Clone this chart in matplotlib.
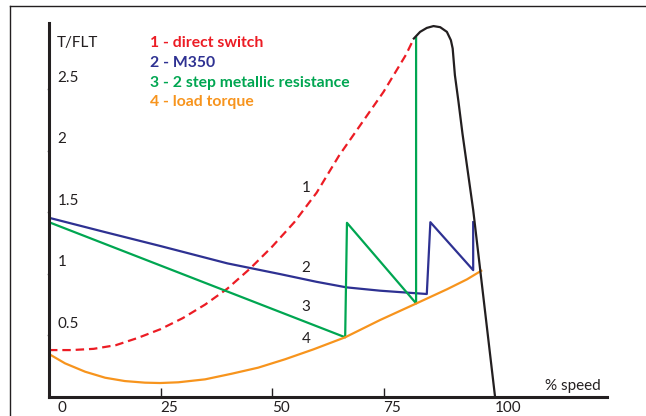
import matplotlib.pyplot as plt
from matplotlib.lines import Line2D

plt.rcParams['font.family'] = ['Lato', 'DejaVu Sans']

# curve 1 - direct switch (dashed)
direct_x = [0, 5, 10, 15, 20, 25, 30, 35, 40, 45, 50, 55, 60, 65, 70, 75, 80, 81.8]
direct_y = [0.38, 0.38, 0.39, 0.42, 0.48, 0.55, 0.64, 0.75, 0.88, 1.04, 1.22, 1.42, 1.66, 1.96, 2.22, 2.48, 2.78, 2.914]

# curve 2 - M350
m350_x = [0, 12.5, 25, 40, 51.8, 60, 66.7, 74.2, 80, 84.7, 85.5, 95.1, 95.1]
m350_y = [1.456, 1.34, 1.226, 1.085, 0.998, 0.935, 0.89, 0.863, 0.848, 0.836, 1.42, 1.03, 1.42]

# curve 3 - 2 step metallic resistance
step_x = [0, 66.4, 66.8, 82.3, 82.3]
step_y = [1.42, 0.484, 1.415, 0.76, 2.92]

# curve 4 - load torque
load_x = [0, 3.6, 8.1, 12.6, 17.0, 21.5, 24.9, 29.0, 35.0, 41.0, 46.9, 52.9, 59.3, 66.4, 74.2, 82.4, 89.2, 93.7, 96.9]
load_y = [0.348, 0.272, 0.204, 0.155, 0.128, 0.115, 0.112, 0.118, 0.142, 0.188, 0.237, 0.305, 0.386, 0.484, 0.624, 0.76, 0.874, 0.955, 1.025]

# motor torque curve (breakdown peak and fall to synchronous speed)
motor_x = [81.8, 83.2, 84.7, 86.2, 87.7, 89.2, 90.1, 90.5, 91.0, 91.8, 92.7, 95.1, 100]
motor_y = [2.914, 2.968, 3.0, 3.015, 3.006, 2.968, 2.9, 2.833, 2.616, 2.4, 2.14, 1.52, 0.0]

x_ticks = [0, 25, 50, 75, 100]
y_ticks = [0.5, 1, 1.5, 2, 2.5]

legend_labels = ["1 - direct switch", "2 - M350", "3 - 2 step metallic resistance", "4 - load torque"]
RED = '#ec1c24'
BLUE = '#2e3192'
GREEN = '#00a651'
ORANGE = '#f7941d'
BLACK = '#231f20'
legend_colors = [RED, BLUE, GREEN, ORANGE]

fig = plt.figure(figsize=(6.46, 4.16), dpi=100)
W, H = 646, 416
ax = fig.add_axes([49 / W, (H - 396.8) / H, (607 - 49) / W, (396.8 - 23) / H])
ax.set_xlim(0, 125.1)
ax.set_ylim(0, 3.04)

ax.plot(direct_x, direct_y, color=RED, lw=1.6, dashes=(3.8, 2.2))
ax.plot(m350_x, m350_y, color=BLUE, lw=1.6)
ax.plot(step_x, step_y, color=GREEN, lw=1.6)
ax.plot(load_x, load_y, color=ORANGE, lw=1.6)
ax.plot(motor_x, motor_y, color=BLACK, lw=1.6)

for s in ['top', 'right']:
    ax.spines[s].set_visible(False)
for s in ['left', 'bottom']:
    ax.spines[s].set_linewidth(2.2)
    ax.spines[s].set_color(BLACK)

ax.set_xticks(x_ticks[1:-1])
ax.set_yticks(y_ticks)
ax.tick_params(axis='x', direction='in', length=6.5, width=1, color=BLACK, labelbottom=False)
ax.tick_params(axis='y', direction='out', length=1.5, width=1, color='#999999', labelleft=False)

# tick labels (offset like the original drawing)
for i, v in enumerate(x_ticks):
    dx = 6 if i == 0 else 0
    ax.annotate(str(v), xy=(v, 0), xytext=(dx, -8), textcoords='offset points',
                ha='left', va='center', fontsize=11, color=BLACK)
for v in y_ticks:
    ax.annotate(f"{v:g}", xy=(0, v), xytext=(6, 8.5), textcoords='offset points',
                ha='left', va='center', fontsize=11, color=BLACK)

ax.text(1.8, 2.876, "T/FLT", ha='left', va='center', fontsize=11, color=BLACK)
ax.text(117.4, 0.085, "% speed", ha='center', va='center', fontsize=11, color=BLACK)

legend_y = [2.876, 2.714, 2.551, 2.396]
for lab, c, yy in zip(legend_labels, legend_colors, legend_y):
    ax.text(22.6, yy, lab, ha='left', va='center', fontsize=11.3, color=c, fontweight='bold')

# curve numbers
for n, yy in zip(["1", "2", "3", "4"], [1.695, 1.05, 0.729, 0.473]):
    ax.text(57.6, yy, n, ha='center', va='center', fontsize=11, color=BLACK)

# thin frame around the drawing
fig.add_artist(Line2D([10 / W, 1], [1 - 6 / H, 1 - 6 / H], color=BLACK, lw=1))
fig.add_artist(Line2D([10 / W, 10 / W], [0, 1 - 6 / H], color=BLACK, lw=1))

fig.savefig('out.png', dpi=100)
